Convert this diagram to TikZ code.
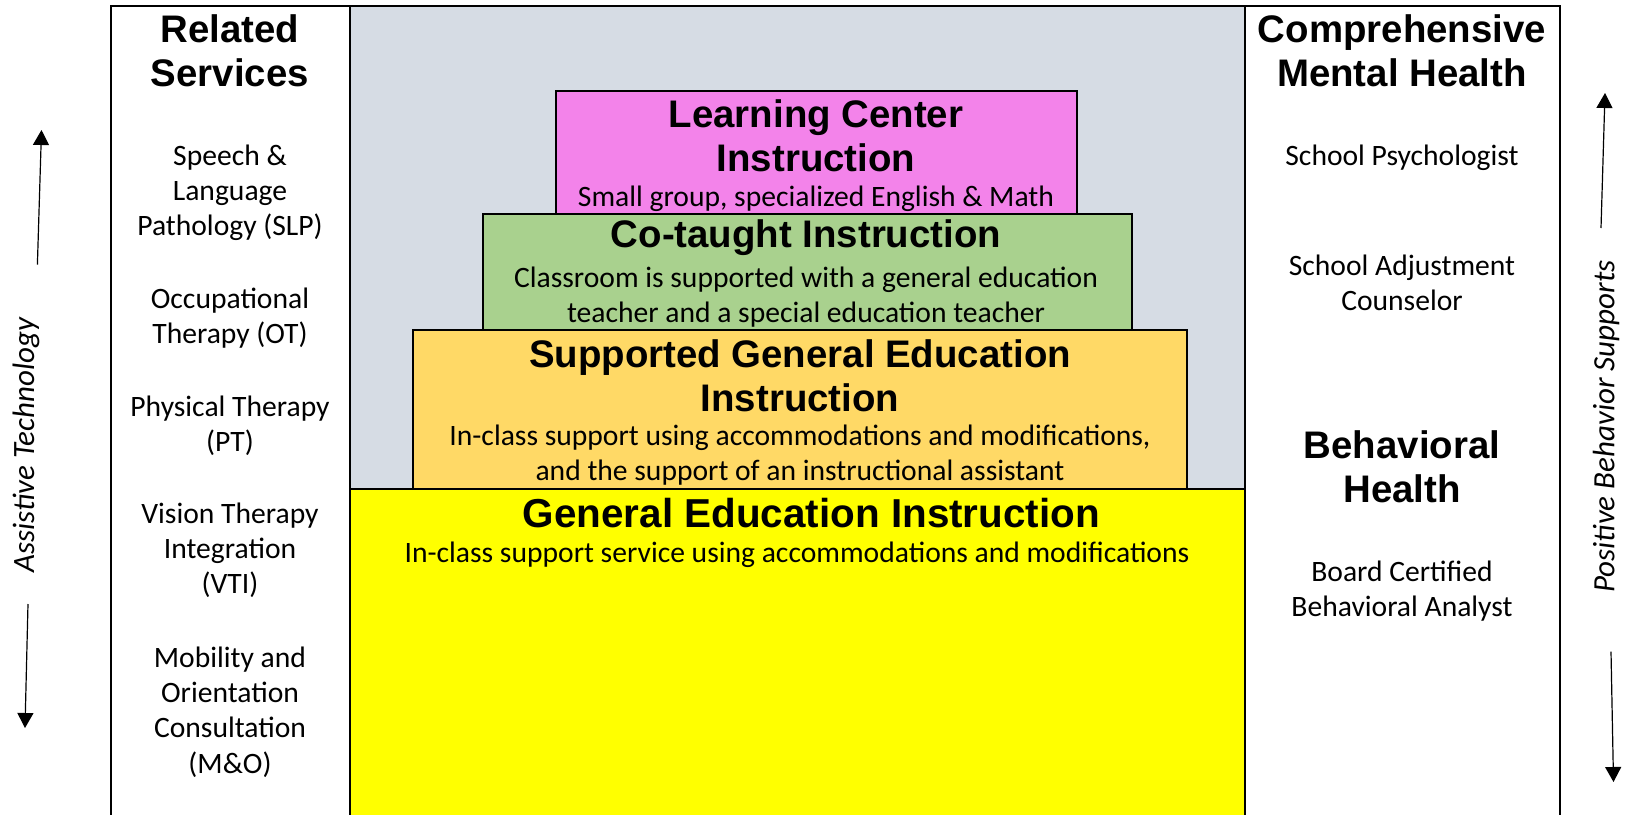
\documentclass[tikz,border=0pt]{standalone}
\usepackage{fontspec}
\setmainfont{Carlito}
\newfontfamily\headfont{Liberation Sans}
\usetikzlibrary{arrows.meta}

\definecolor{bggray}{HTML}{D6DCE4}
\definecolor{lcpink}{HTML}{F383EA}
\definecolor{cogreen}{HTML}{A9D18E}
\definecolor{sgorange}{HTML}{FFD966}
\definecolor{geyellow}{HTML}{FFFF00}

\tikzset{
  head/.style={font=\headfont\bfseries\fontsize{19.2}{21.8}\selectfont, align=center, inner sep=0pt},
  body/.style={font=\fontsize{14.8}{17.6}\selectfont, align=center, inner sep=0pt},
  tier/.style={draw=black, line width=1pt},
  sidetext/.style={font=\itshape\fontsize{15.5}{17.6}\selectfont, inner sep=0pt, rotate=90},
  updown/.style={line width=0.6pt, -{Triangle[length=7.5pt,width=8pt]}},
}

\begin{document}
\begin{tikzpicture}[x=0.5pt,y=-0.5pt]
  \useasboundingbox (0,0) rectangle (1627,814);

  % middle column
  \fill[bggray] (349.7,6) rectangle (1245,488.7);
  \fill[geyellow] (349.7,488.7) rectangle (1245,830);
  \draw[tier, fill=lcpink] (556,91.3) rectangle (1077,213.7);
  \draw[tier, fill=cogreen] (482.5,213.7) rectangle (1132,330);
  \draw[tier, fill=sgorange] (413,330) rectangle (1187,488.7);
  \draw[line width=1pt] (349.7,488.7) -- (1245,488.7);

  % frame
  \draw[line width=1pt] (111,830) -- (111,6) -- (1560,6) -- (1560,830);
  \draw[line width=0.8pt] (349.7,6) -- (349.7,830);
  \draw[line width=0.8pt] (1245,6) -- (1245,830);

  % tiers
  \node[head] (lchead) at (816,136) {Learning Center\\Instruction};
  \node[body] (lcbody) at (816,199) {Small group, specialized English \& Math};
  \node[head] (cohead) at (806,237.5) {Co-taught Instruction};
  \node[body] (cobody) at (806,297) {Classroom is supported with a general education\\teacher and a special education teacher};
  \node[head] (sghead) at (800,376) {Supported General Education\\Instruction};
  \node[body] (sgbody) at (800,455.5) {In-class support using accommodations and modifications,\\and the support of an instructional assistant};
  \node[head, font=\headfont\bfseries\fontsize{20.2}{23}\selectfont] (gehead) at (811.4,513) {General Education Instruction};
  \node[body] (gebody) at (797,555) {In-class support service using accommodations and modifications};

  % left column
  \node[head] (rshead) at (230,50.8) {Related\\Services};
  \node[body] (slp) at (230,193) {Speech \&\\Language\\Pathology (SLP)};
  \node[body] (ot) at (230,318.5) {Occupational\\Therapy (OT)};
  \node[body] (pt) at (230,425.5) {Physical Therapy\\(PT)};
  \node[body] (vti) at (230,550.5) {Vision Therapy\\Integration\\(VTI)};
  \node[body] (mo) at (230,712) {Mobility and\\Orientation\\Consultation\\(M\&O)};

  % right column
  \node[head] (mhhead) at (1402,50.8) {Comprehensive\\Mental Health};
  \node[body] (psych) at (1402,157.5) {School Psychologist};
  \node[body] (sac) at (1402,282.5) {School Adjustment\\Counselor};
  \node[head] (bhhead) at (1402,467) {Behavioral\\Health};
  \node[body] (bcba) at (1402,591) {Board Certified\\Behavioral Analyst};

  % side arrows
  \node[sidetext] (at) at (26,445) {Assistive Technology};
  \coordinate (atlo) at (37.4,264.6);
  \coordinate (attop) at (41.5,130);
  \coordinate (athi) at (28,604);
  \coordinate (atbot) at (25,728);
  \draw[updown] (atlo) -- (attop);
  \draw[updown] (athi) -- (atbot);

  \node[sidetext] (pbs) at (1606,426.6) {Positive Behavior Supports};
  \coordinate (pbslo) at (1601,228);
  \coordinate (pbstop) at (1605,93);
  \coordinate (pbshi) at (1611,651.6);
  \coordinate (pbsbot) at (1613.5,782);
  \draw[updown] (pbslo) -- (pbstop);
  \draw[updown] (pbshi) -- (pbsbot);
\end{tikzpicture}
\end{document}
